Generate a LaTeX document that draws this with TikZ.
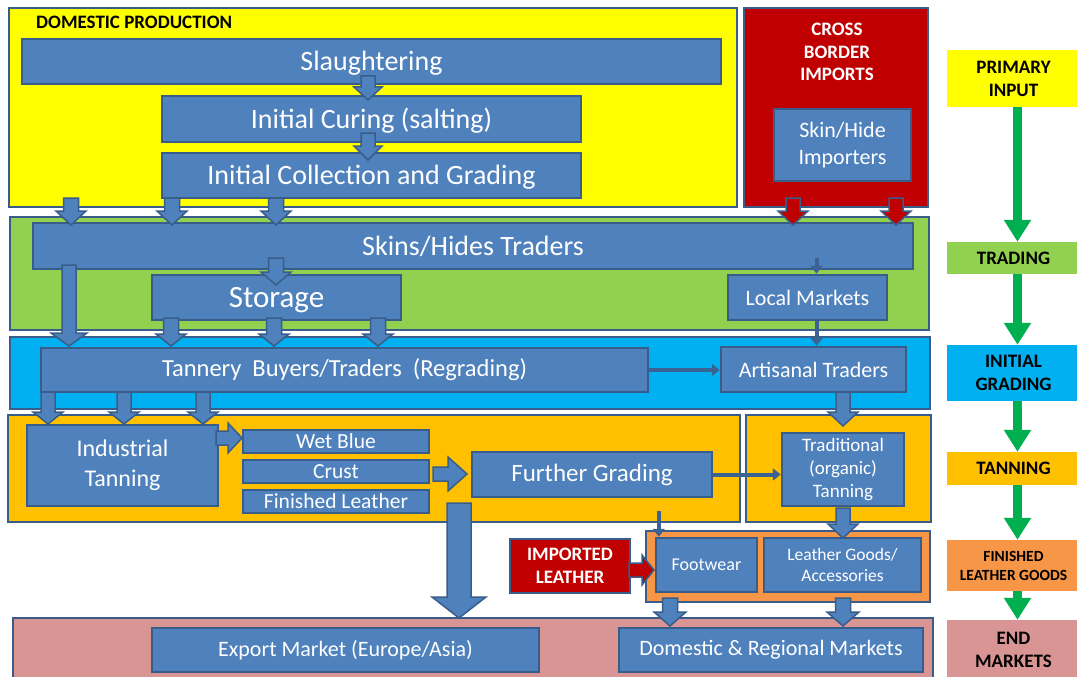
\documentclass[tikz,border=0pt]{standalone}
\usepackage{fontspec}
\setmainfont{Carlito}
\usetikzlibrary{arrows.meta}
\definecolor{bx}{HTML}{4F81BD}
\definecolor{bxd}{HTML}{385D8A}
\definecolor{yel}{HTML}{FFFF00}
\definecolor{redb}{HTML}{C00000}
\definecolor{grn}{HTML}{92D050}
\definecolor{blu}{HTML}{00B0F0}
\definecolor{gold}{HTML}{FFC000}
\definecolor{org}{HTML}{F79646}
\definecolor{pnk}{HTML}{D99594}
\definecolor{garr}{HTML}{00B050}
\newcommand\fs[2]{\fontsize{#1}{#2}\selectfont}
% name, x1, y1, x2, y2, style, text
\newcommand\rbox[7]{\node[#6, minimum width={(#4-#2)*1pt}, minimum height={(#5-#3)*1pt}] (#1) at ({(#2+#4)/2},{(#3+#5)/2}) {#7};}
% down block arrow: x, ytop, yhead, ytip, shaft half, head half, style
\newcommand\bdown[7]{\draw[barrow,#7] ({#1-#5},#2) -- ({#1+#5},#2) -- ({#1+#5},#3) -- ({#1+#6},#3) -- (#1,#4) -- ({#1-#6},#3) -- ({#1-#5},#3) -- cycle;}
% right block arrow: y, xleft, xhead, xtip, shaft half, head half, style
\newcommand\bright[7]{\draw[barrow,#7] (#2,{#1-#5}) -- (#3,{#1-#5}) -- (#3,{#1-#6}) -- (#4,#1) -- (#3,{#1+#6}) -- (#3,{#1+#5}) -- (#2,{#1+#5}) -- cycle;}
\begin{document}
\begin{tikzpicture}[x=1pt,y=-1pt,
  box/.style={draw=bxd, fill=bx, line width=2.5pt, inner sep=0pt, text=white, align=center},
  band/.style={draw=bxd, line width=2.5pt, inner sep=0pt},
  leg/.style={draw=none, inner sep=0pt, align=center, text=black, font=\bfseries\fs{19}{23}},
  lbl/.style={inner sep=0pt, align=center, font=\bfseries\fs{19}{22.5}},
  barrow/.style={fill=bx, draw=bxd, line width=1.5pt, line join=miter},
  redarrow/.style={fill=redb},
  thinarr/.style={draw=bxd!85!bx, line width=4pt, -{Triangle[width=12pt,length=8pt]}},
  garrow/.style={draw=garr, line width=8.5pt, -{Triangle[width=26pt,length=22pt]}}]
\useasboundingbox (0,0) rectangle (1077,677);
\fill[white] (0,0) rectangle (1077,677);

% bands
\rbox{bdom}{9}{8}{737}{207}{band,fill=yel}{}
\rbox{bimp}{744}{8}{928}{207}{band,fill=redb}{}
\rbox{btrade}{10}{217}{929}{330}{band,fill=grn}{}
\rbox{bgrade}{10}{337}{930}{409}{band,fill=blu}{}
\rbox{btanL}{8}{415}{740}{522}{band,fill=gold}{}
\rbox{btanR}{746}{415}{931}{522}{band,fill=gold}{}
\rbox{bfin}{646}{531}{930}{602}{band,fill=org}{}
\rbox{bend}{13}{618}{933}{682}{band,fill=pnk}{}

\node[lbl, anchor=west] (ldom) at (36,22) {DOMESTIC PRODUCTION};
\node[lbl, text=white] (limp) at (837,52) {CROSS\\BORDER\\IMPORTS};

% process boxes
\rbox{slaugh}{22}{39}{721}{84}{box,font=\fs{28}{32},text depth=2pt}{Slaughtering}
\rbox{cure}{162}{96}{581}{142}{box,font=\fs{28}{32},text depth=2pt}{Initial Curing (salting)}
\rbox{coll}{162}{153}{581}{198}{box,font=\fs{28}{32},text depth=2pt}{Initial Collection and Grading}
\rbox{impt}{774}{109}{911}{181}{box,font=\fs{22}{27}}{Skin/Hide\\Importers}
\rbox{trd}{33}{223}{913}{269}{box,font=\fs{28}{32}}{Skins/Hides Traders}
\rbox{stor}{152}{275}{401}{320}{box,font=\fs{31}{34},text depth=0pt}{Storage}
\rbox{lm}{728}{275}{887}{320}{box,font=\fs{22}{26}}{Local Markets}
\rbox{tann}{41}{348}{648}{392}{box,font=\fs{24.5}{27}}{Tannery\hspace{.45em}Buyers/Traders\hspace{.45em}(Regrading)}
\rbox{art}{721}{347}{906}{392}{box,font=\fs{22}{26}}{Artisanal Traders}
\rbox{ind}{27}{425}{218}{506}{box,font=\fs{24}{30}}{Industrial\\Tanning}
\rbox{wb}{243}{430}{429}{453}{box,font=\fs{21.5}{23}}{Wet Blue}
\rbox{cr}{243}{460}{429}{483}{box,font=\fs{21.5}{23}}{Crust}
\rbox{fl}{243}{490}{429}{513}{box,font=\fs{21.5}{23}}{Finished Leather}
\rbox{fg}{472}{452}{712}{497}{box,font=\fs{25}{29}}{Further Grading}
\rbox{trt}{782}{433}{904}{506}{box,font=\fs{19}{23}}{Traditional\\(organic)\\Tanning}
\rbox{il}{510}{539}{630}{593}{box,fill=redb,font=\bfseries\fs{19}{23}}{IMPORTED\\LEATHER}
\rbox{fw}{656}{538}{757}{592}{box,font=\fs{18}{22}}{Footwear}
\rbox{lgd}{764}{538}{921}{592}{box,font=\fs{17.5}{21},text depth=0pt}{Leather Goods/\\Accessories}
\rbox{exp}{152}{628}{539}{672}{box,font=\fs{22}{26}}{Export Market (Europe/Asia)}
\rbox{dom}{619}{628}{923}{672}{box,font=\fs{22}{26}}{Domestic \& Regional Markets}

% legend
\rbox{lpi}{947}{50}{1080}{107}{leg,fill=yel}{PRIMARY\\INPUT}
\rbox{ltr}{947}{242}{1080}{274}{leg,fill=grn}{TRADING}
\rbox{lig}{947}{345}{1080}{401}{leg,fill=blu}{INITIAL\\GRADING}
\rbox{lta}{947}{452}{1080}{485}{leg,fill=gold}{TANNING}
\rbox{lfl}{947}{540}{1080}{591}{leg,fill=org,font=\bfseries\fs{15.5}{19}}{FINISHED\\LEATHER GOODS}
\rbox{lem}{947}{620}{1080}{680}{leg,fill=pnk}{END\\MARKETS}

\draw[garrow] ([xshift=4pt]lpi.south) -- ([xshift=4pt]ltr.north);
\draw[garrow] ([xshift=4pt]ltr.south) -- ([xshift=4pt]lig.north);
\draw[garrow] ([xshift=4pt]lig.south) -- ([xshift=4pt]lta.north);
\draw[garrow] ([xshift=4pt]lta.south) -- ([xshift=4pt]lfl.north);
\draw[garrow] ([xshift=4pt]lfl.south) -- ([xshift=4pt]lem.north);

% block arrows
\bdown{368}{76}{87}{100}{7}{14}{}
\bdown{368}{133}{146}{160}{7}{14}{}
\bdown{71}{198}{211}{225}{7.5}{15}{}
\bdown{172}{198}{211}{225}{7.5}{15}{}
\bdown{276}{198}{211}{225}{7.5}{15}{}
\bdown{793}{198}{211}{225}{7}{15}{redarrow}
\bdown{896}{198}{211}{225}{7}{15}{redarrow}
\bdown{276}{258}{272}{285}{7.5}{15}{}
\bdown{69}{265}{333}{346}{7}{18}{}
\bdown{171}{318}{334}{346}{7.5}{15}{}
\bdown{274}{318}{334}{346}{7.5}{15}{}
\bdown{378}{318}{334}{346}{7.5}{15}{}
\bdown{48}{392}{412}{424}{7}{15}{}
\bdown{124}{392}{412}{424}{7}{15}{}
\bdown{203}{392}{412}{424}{7}{15}{}
\bdown{843}{392}{412}{426}{7}{15}{}
\bdown{459}{503}{597}{618}{12}{27}{}
\bdown{843}{508}{524}{538}{7}{15}{}
\bdown{670}{598}{612}{626}{7.5}{16}{}
\bdown{843}{598}{612}{626}{7.5}{16}{}
\bright{438}{216}{228}{242}{7}{15}{}
\bright{474}{433}{448}{467}{7}{17}{}
\bright{570}{629}{642}{654}{7}{15}{redarrow}

% thin connectors
\draw[thinarr] ([xshift=9pt,yshift=12pt]lm.north |- trd.south) -- ([xshift=9pt]lm.north);
\draw[thinarr] ([xshift=9pt]lm.south) -- ([xshift=9pt]lm.south |- art.north);
\draw[thinarr] (tann.east) -- (tann.east -| art.west);
\draw[thinarr] (fg.east) -- (fg.east -| trt.west);
\draw[thinarr] ([xshift=4pt,yshift=26pt]fw.north west) -- ([xshift=4pt]fw.north west);
\end{tikzpicture}
\end{document}
